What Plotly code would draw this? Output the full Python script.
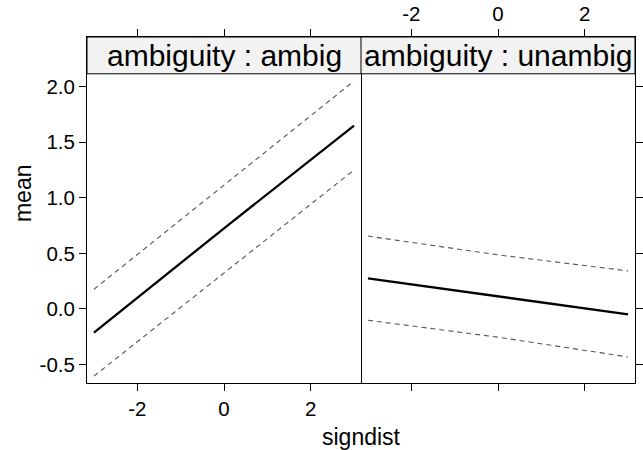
import plotly.graph_objects as go

signdist = [-3, 0, 3]
ambig_fit = [-0.213, 0.725, 1.649]
ambig_upper = [0.177, 1.113, 2.049]
ambig_lower = [-0.604, 0.32, 1.25]
unambig_fit = [0.274, 0.114, -0.048]
unambig_upper = [0.655, 0.486, 0.342]
unambig_lower = [-0.102, -0.254, -0.432]
panel_labels = ["ambiguity : ambig", "ambiguity : unambig"]
x_ticks = [-2, 0, 2]
x_tick_text = ["-2", "0", "2"]
y_ticks = [-0.5, 0.0, 0.5, 1.0, 1.5, 2.0]
y_tick_text = ["-0.5", "0.0", "0.5", "1.0", "1.5", "2.0"]

FONT = "Liberation Sans, Arial, Helvetica, sans-serif"
XR = [-3.16, 3.16]
YR = [-0.666, 2.445]
STRIP_LO = 2.114

fig = go.Figure()

def add_panel(fit, up, lo, xa, ya):
    for ys in (up, lo):
        fig.add_trace(go.Scatter(x=signdist, y=ys, mode="lines", xaxis=xa, yaxis=ya,
                                 line=dict(color="#555555", width=1.1, dash="5px,4px"),
                                 showlegend=False, hoverinfo="skip"))
    fig.add_trace(go.Scatter(x=signdist, y=fit, mode="lines", xaxis=xa, yaxis=ya,
                             line=dict(color="black", width=2.3),
                             showlegend=False, hoverinfo="skip"))

add_panel(ambig_fit, ambig_upper, ambig_lower, "x", "y")
add_panel(unambig_fit, unambig_upper, unambig_lower, "x2", "y2")

axis_common = dict(showgrid=False, zeroline=False, showline=True, linecolor="black",
                   linewidth=1, ticks="outside", ticklen=7, tickcolor="black",
                   automargin=False,
                   tickfont=dict(family=FONT, size=20.5, color="black"))

fig.update_layout(
    width=643, height=450,
    margin=dict(l=87, r=8, t=37, b=67, autoexpand=False),
    paper_bgcolor="white", plot_bgcolor="white",
    xaxis=dict(domain=[0, 0.5], range=XR, tickvals=x_ticks, ticktext=x_tick_text,
               side="bottom", mirror="ticks", **axis_common),
    xaxis2=dict(domain=[0.5, 1], range=XR, tickvals=x_ticks, ticktext=x_tick_text,
                side="top", mirror="ticks", anchor="y2", **axis_common),
    yaxis=dict(domain=[0, 1], range=YR, tickvals=y_ticks, ticktext=y_tick_text,
               side="left", mirror=True, **axis_common),
    yaxis2=dict(domain=[0, 1], range=YR, tickvals=y_ticks, side="right",
                mirror=False, anchor="x2", showticklabels=False, **axis_common),
)

for i, (xr, yr) in enumerate([("x", "y"), ("x2", "y2")]):
    fig.add_shape(type="rect", xref=xr, yref=yr, x0=XR[0], x1=XR[1], y0=STRIP_LO, y1=YR[1],
                  fillcolor="#f2f2f2", line=dict(color="black", width=1), layer="above")
    fig.add_annotation(xref=xr, yref=yr, x=0, y=(STRIP_LO + YR[1]) / 2, text=panel_labels[i],
                       showarrow=False, font=dict(family=FONT, size=30, color="black"),
                       xanchor="center", yanchor="middle")

fig.add_annotation(xref="paper", yref="paper", x=0.5, y=-0.156, yanchor="middle",
                   text="signdist", showarrow=False,
                   font=dict(family=FONT, size=23, color="black"))
fig.add_annotation(xref="paper", yref="paper", x=-0.118, y=0.55, xanchor="center",
                   text="mean", textangle=-90, showarrow=False,
                   font=dict(family=FONT, size=23, color="black"))

fig.write_html("out.html")
